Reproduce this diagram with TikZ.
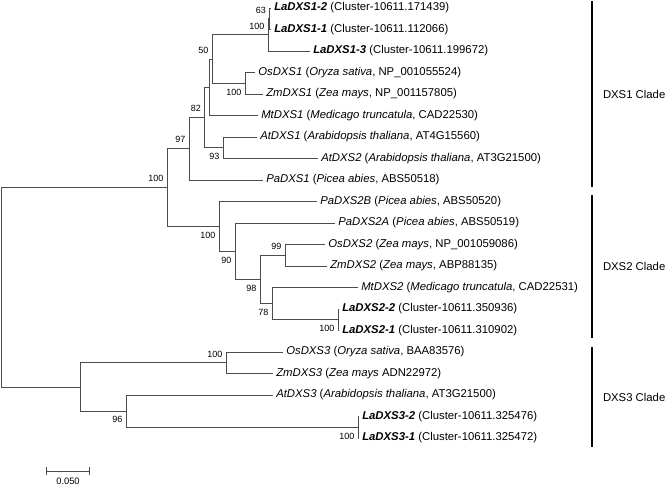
\documentclass[tikz,border=0pt]{standalone}
\usepackage{fontspec}
\setmainfont{Liberation Sans}
\usepackage{tikz}
\usetikzlibrary{positioning, arrows.meta}

\begin{document}
\begin{tikzpicture}[
    x=0.75pt, y=-0.75pt,
    branch/.style={draw=black!70, line width=0.75pt},
    leaf/.style={inner sep=0pt, font=\fontsize{8.5}{10}\selectfont},
    bup/.style={inner sep=0pt, anchor=south east, xshift=-2.5pt, yshift=4pt, font=\fontsize{6.75}{8}\selectfont},
    bdown/.style={inner sep=0pt, anchor=north east, xshift=-2.5pt, yshift=-4pt, font=\fontsize{6.75}{8}\selectfont},
    bar/.style={draw=black, line width=1.5pt},
    clade/.style={inner sep=0pt, anchor=west, xshift=7.5pt, font=\fontsize{8.5}{10}\selectfont}
]
\useasboundingbox (0,0) rectangle (665,486);

% leaf tips
\coordinate (l1) at (271,8);
\coordinate (l2) at (271,29.5);
\coordinate (l3) at (310,51);
\coordinate (l4) at (255,72.5);
\coordinate (l5) at (263,94);
\coordinate (l6) at (258,115.5);
\coordinate (l7) at (257,137);
\coordinate (l8) at (318,158.5);
\coordinate (l9) at (263,180);
\coordinate (l10) at (317,201.5);
\coordinate (l11) at (335,223);
\coordinate (l12) at (325,244.5);
\coordinate (l13) at (327,266);
\coordinate (l14) at (358,287.5);
\coordinate (l15) at (339,309);
\coordinate (l16) at (339,330.5);
\coordinate (l17) at (283,352);
\coordinate (l18) at (273,373.5);
\coordinate (l19) at (273,395);
\coordinate (l20) at (359,416.5);
\coordinate (l21) at (359,438);

% inner nodes
\coordinate (la1pair) at (269.5,18.75);
\coordinate (la1) at (268,34.9);
\coordinate (oszm1) at (245,83.25);
\coordinate (n50) at (212,59.1);
\coordinate (mt1) at (209,87.2);
\coordinate (at) at (223,147.75);
\coordinate (n82) at (204.5,117.5);
\coordinate (dxs1) at (189,148.6);
\coordinate (oszm2) at (285,255.25);
\coordinate (la2pair) at (338,319.75);
\coordinate (mt2) at (272,303.6);
\coordinate (n98) at (260,279.4);
\coordinate (n90) at (235,251.2);
\coordinate (dxs2) at (219,226.4);
\coordinate (dxs12) at (167,187.5);
\coordinate (oszm3) at (226,362.75);
\coordinate (la3pair) at (358,427.25);
\coordinate (n96) at (126,411.1);
\coordinate (dxs3) at (80,387);
\coordinate (root) at (1,287);

% branches
\draw[branch] (la1pair) |- (l1);
\draw[branch] (la1pair) |- (l2);
\draw[branch] (la1) |- (la1pair);
\draw[branch] (la1) |- (l3);
\draw[branch] (oszm1) |- (l4);
\draw[branch] (oszm1) |- (l5);
\draw[branch] (n50) |- (la1);
\draw[branch] (n50) |- (oszm1);
\draw[branch] (mt1) |- (n50);
\draw[branch] (mt1) |- (l6);
\draw[branch] (at) |- (l7);
\draw[branch] (at) |- (l8);
\draw[branch] (n82) |- (mt1);
\draw[branch] (n82) |- (at);
\draw[branch] (dxs1) |- (n82);
\draw[branch] (dxs1) |- (l9);
\draw[branch] (oszm2) |- (l12);
\draw[branch] (oszm2) |- (l13);
\draw[branch] (la2pair) |- (l15);
\draw[branch] (la2pair) |- (l16);
\draw[branch] (mt2) |- (l14);
\draw[branch] (mt2) |- (la2pair);
\draw[branch] (n98) |- (oszm2);
\draw[branch] (n98) |- (mt2);
\draw[branch] (n90) |- (l11);
\draw[branch] (n90) |- (n98);
\draw[branch] (dxs2) |- (l10);
\draw[branch] (dxs2) |- (n90);
\draw[branch] (dxs12) |- (dxs1);
\draw[branch] (dxs12) |- (dxs2);
\draw[branch] (oszm3) |- (l17);
\draw[branch] (oszm3) |- (l18);
\draw[branch] (la3pair) |- (l20);
\draw[branch] (la3pair) |- (l21);
\draw[branch] (n96) |- (l19);
\draw[branch] (n96) |- (la3pair);
\draw[branch] (dxs3) |- (oszm3);
\draw[branch] (dxs3) |- (n96);
\draw[branch] (root) |- (dxs12);
\draw[branch] (root) |- (dxs3);

% bootstrap values
\node[bup] (b1) at (la1pair) {63};
\node[bup] (b2) at (la1) {100};
\node[bdown] (b3) at (oszm1) {100};
\node[bup] (b4) at (n50) {50};
\node[bup] (b5) at (n82) {82};
\node[bdown] (b6) at (at) {93};
\node[bup] (b7) at (dxs1) {97};
\node[bup] (b8) at (dxs12) {100};
\node[bdown] (b9) at (dxs2) {100};
\node[bdown] (b10) at (n90) {90};
\node[bup] (b11) at (oszm2) {99};
\node[bdown] (b12) at (n98) {98};
\node[bdown] (b13) at (mt2) {78};
\node[bdown] (b14) at (la2pair) {100};
\node[bup] (b15) at (oszm3) {100};
\node[bdown] (b16) at (n96) {96};
\node[bdown] (b17) at (la3pair) {100};

% sequence names
\node[leaf, right=2.25pt of l1] (t1) {\textbf{\textit{LaDXS1-2}} (Cluster-10611.171439)};
\node[leaf, right=2.25pt of l2] (t2) {\textbf{\textit{LaDXS1-1}} (Cluster-10611.112066)};
\node[leaf, right=2.25pt of l3] (t3) {\textbf{\textit{LaDXS1-3}} (Cluster-10611.199672)};
\node[leaf, right=2.25pt of l4] (t4) {\textit{OsDXS1} (\textit{Oryza sativa}, NP\_001055524)};
\node[leaf, right=2.25pt of l5] (t5) {\textit{ZmDXS1} (\textit{Zea mays}, NP\_001157805)};
\node[leaf, right=2.25pt of l6] (t6) {\textit{MtDXS1} (\textit{Medicago truncatula}, CAD22530)};
\node[leaf, right=2.25pt of l7] (t7) {\textit{AtDXS1} (\textit{Arabidopsis thaliana}, AT4G15560)};
\node[leaf, right=2.25pt of l8] (t8) {\textit{AtDXS2} (\textit{Arabidopsis thaliana}, AT3G21500)};
\node[leaf, right=2.25pt of l9] (t9) {\textit{PaDXS1} (\textit{Picea abies}, ABS50518)};
\node[leaf, right=2.25pt of l10] (t10) {\textit{PaDXS2B} (\textit{Picea abies}, ABS50520)};
\node[leaf, right=2.25pt of l11] (t11) {\textit{PaDXS2A} (\textit{Picea abies}, ABS50519)};
\node[leaf, right=2.25pt of l12] (t12) {\textit{OsDXS2} (\textit{Zea mays}, NP\_001059086)};
\node[leaf, right=2.25pt of l13] (t13) {\textit{ZmDXS2} (\textit{Zea mays}, ABP88135)};
\node[leaf, right=2.25pt of l14] (t14) {\textit{MtDXS2} (\textit{Medicago truncatula}, CAD22531)};
\node[leaf, right=2.25pt of l15] (t15) {\textbf{\textit{LaDXS2-2}} (Cluster-10611.350936)};
\node[leaf, right=2.25pt of l16] (t16) {\textbf{\textit{LaDXS2-1}} (Cluster-10611.310902)};
\node[leaf, right=2.25pt of l17] (t17) {\textit{OsDXS3} (\textit{Oryza sativa}, BAA83576)};
\node[leaf, right=2.25pt of l18] (t18) {\textit{ZmDXS3} (\textit{Zea mays} ADN22972)};
\node[leaf, right=2.25pt of l19] (t19) {\textit{AtDXS3} (\textit{Arabidopsis thaliana}, AT3G21500)};
\node[leaf, right=2.25pt of l20] (t20) {\textbf{\textit{LaDXS3-2}} (Cluster-10611.325476)};
\node[leaf, right=2.25pt of l21] (t21) {\textbf{\textit{LaDXS3-1}} (Cluster-10611.325472)};

% clade bars
\coordinate (c1a) at (592,1);
\coordinate (c1b) at (592,187);
\coordinate (c2a) at (592,195);
\coordinate (c2b) at (592,338);
\coordinate (c3a) at (592,347);
\coordinate (c3b) at (592,447);
\draw[bar] (c1a) -- node[clade] (k1) {DXS1 Clade} (c1b);
\draw[bar] (c2a) -- node[clade] (k2) {DXS2 Clade} (c2b);
\draw[bar] (c3a) -- node[clade] (k3) {DXS3 Clade} (c3b);

% scale
\coordinate (s1) at (46,471);
\coordinate (s2) at (90,471);
\draw[branch, {Bar[width=6pt]}-{Bar[width=6pt]}] (s1) -- node[below=4.5pt, inner sep=0pt, font=\fontsize{7}{8}\selectfont] (sl) {0.050} (s2);

\end{tikzpicture}
\end{document}
